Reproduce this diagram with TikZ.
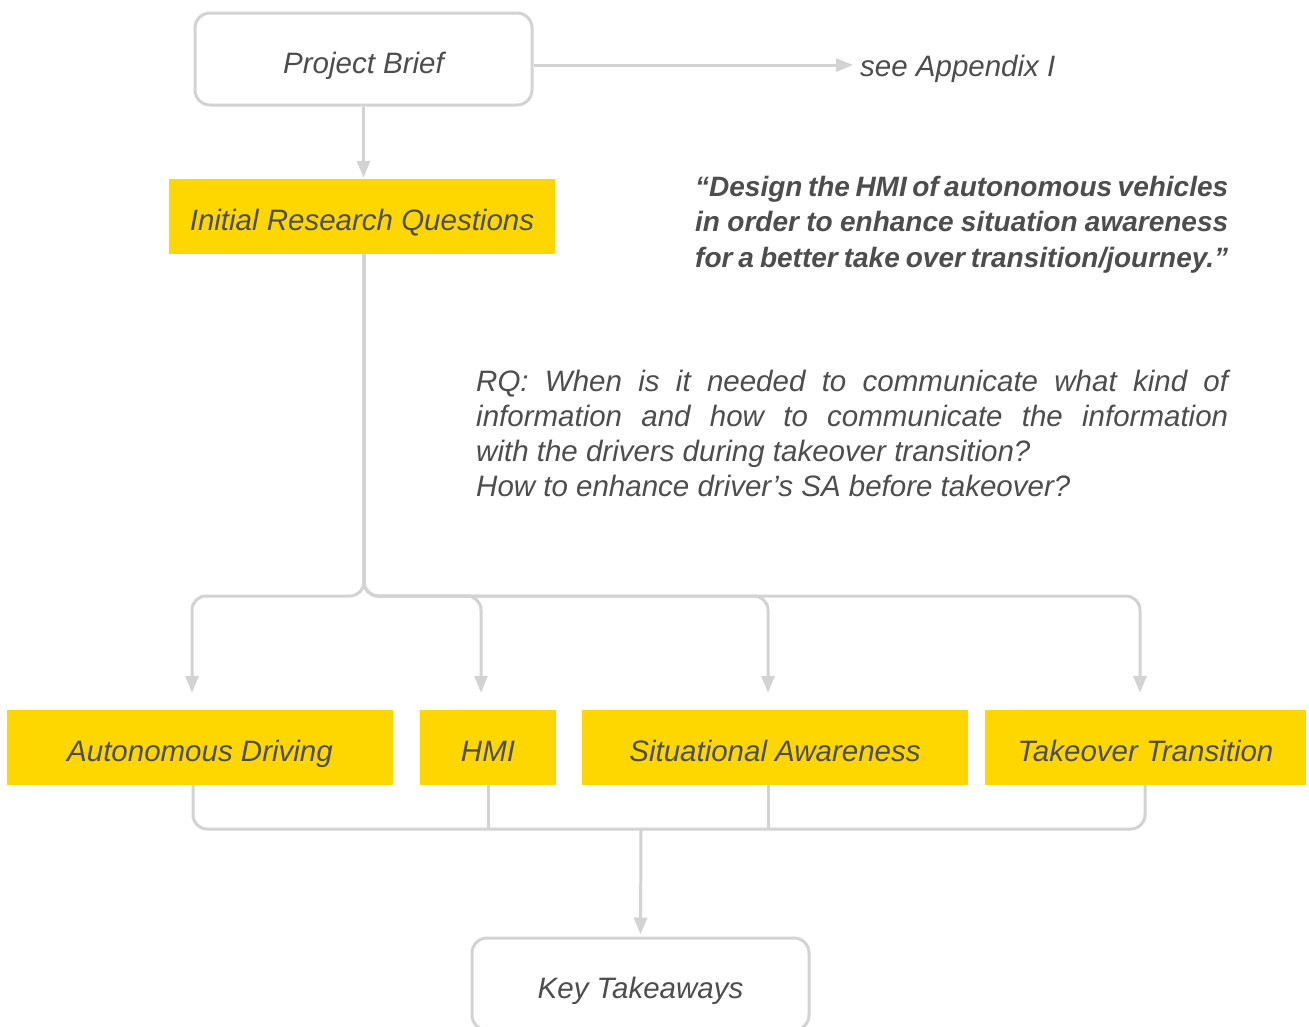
\documentclass[tikz,border=0pt]{standalone}
\usepackage{fontspec}
\setmainfont{Liberation Sans}
\usetikzlibrary{arrows.meta,calc}
\definecolor{lineg}{HTML}{D3D3D3}
\definecolor{yel}{HTML}{FFD700}
\definecolor{txt}{HTML}{4D4D4D}
\newcommand\myfs{\fontsize{29.5}{35}\selectfont}
\begin{document}
\begin{tikzpicture}[x=1pt,y=-1pt,
  conn/.style={draw=lineg,line width=3pt},
  arr/.style={conn,-{Triangle[width=13pt,length=17pt]}},
  lbl/.style={font=\itshape\myfs,text=txt},
  boxtext/.style={lbl,text height=28pt,text depth=0pt,inner sep=0pt},
  rbox/.style={boxtext,draw=lineg,line width=3pt,rounded corners=15pt,minimum width=337pt,minimum height=92pt},
  ybox/.style={boxtext,fill=yel,minimum height=75pt},
  para/.style={lbl,anchor=base west,inner sep=0pt},
  quot/.style={para,font=\bfseries\itshape\fontsize{28}{35}\selectfont}
]
\useasboundingbox[fill=white] (0,0) rectangle (1309,1026);

\node[rbox] (pb) at (363.5,59) {Project Brief};
\node[ybox,minimum width=386pt] (irq) at (362,216.5) {Initial Research Questions};
\node[ybox,minimum width=386pt] (ad) at (200,747.5) {Autonomous Driving};
\node[ybox,minimum width=136pt] (hmi) at (488,747.5) {HMI};
\node[ybox,minimum width=386pt] (sa) at (775,747.5) {Situational Awareness};
\node[ybox,minimum width=321pt] (tt) at (1145.5,747.5) {Takeover Transition};
\node[rbox] (kt) at (640.5,984) {Key Takeaways};
\node[para] (app) at (860,76) {see Appendix I};

\node[quot] (q1) at (695,196) {\makebox[533pt][s]{“Design the HMI of autonomous vehicles}};
\node[quot] (q2) at (695,231) {\makebox[533pt][s]{in order to enhance situation awareness}};
\node[quot] (q3) at (695,267) {\makebox[533pt][s]{for a better take over transition/journey.”}};

\node[para] (r1) at (476,391) {\makebox[752pt][s]{RQ: When is it needed to communicate what kind of}};
\node[para] (r2) at (476,426) {\makebox[752pt][s]{information and how to communicate the information}};
\node[para] (r3) at (476,461) {with the drivers during takeover transition?};
\node[para] (r4) at (476,496) {How to enhance driver’s SA before takeover?};

\draw[arr] (pb.south) -- ([yshift=1pt]pb.south |- irq.north);
\coordinate (appin) at ([xshift=-7pt,yshift=11pt]app.base west);
\draw[arr] (pb.east |- appin) -- (appin);

\coordinate (hy) at (0,596);
\foreach \t/\dx in {ad/-8,hmi/-7,sa/-7,tt/-5.5}
  \draw[arr,rounded corners=14pt] ([xshift=2pt]irq.south) |- ([xshift=\dx pt]\t.north |- hy) -- ([xshift=\dx pt,yshift=17pt]\t.north);

\coordinate (hb) at (641,829);
\draw[conn,rounded corners=14pt] ([xshift=-7pt]ad.south) |- (hb) -| ([xshift=-0.5pt]tt.south);
\draw[conn] (hmi.south) -- (hmi.south |- hb);
\draw[conn] ([xshift=-7pt]sa.south) -- ([xshift=-7pt]sa.south |- hb);
\draw[arr] (hb) -- ([yshift=2pt]kt.north);
\end{tikzpicture}
\end{document}
